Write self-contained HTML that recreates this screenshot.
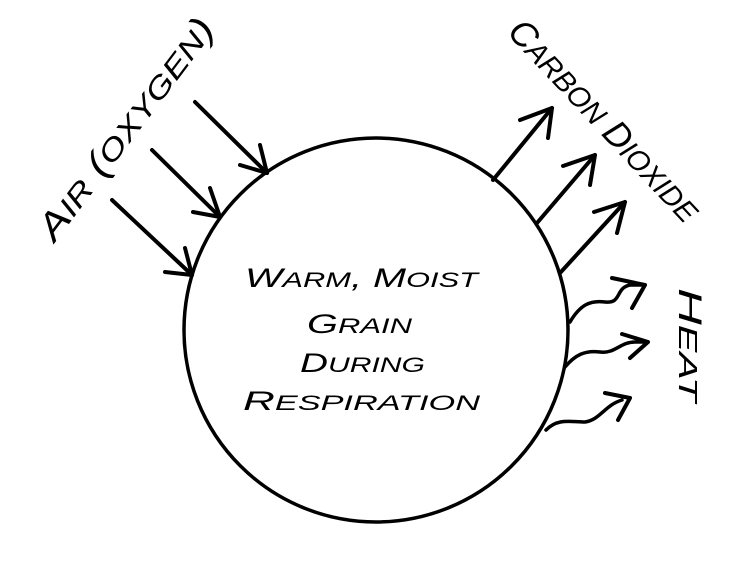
<!DOCTYPE html>
<html><head><meta charset="utf-8"><style>
html,body{margin:0;padding:0;background:#fff;}
svg{display:block;}
text{font-family:"Liberation Sans",sans-serif;font-style:italic;fill:#000;}
</style></head><body>
<svg width="736" height="570" viewBox="0 0 736 570" xmlns="http://www.w3.org/2000/svg">
<g fill="none" stroke="#000" stroke-width="4" stroke-linecap="round" stroke-linejoin="round">
<circle cx="376" cy="330" r="192" stroke-width="3.5"/>
<!-- left arrows -->
<line x1="112" y1="200" x2="192" y2="275"/><path d="M165 272 L192 275 L185 248"/>
<line x1="152" y1="150" x2="220" y2="217"/><path d="M193 212 L220 217 L210 188"/>
<line x1="195" y1="102" x2="267" y2="173"/><path d="M240 165 L267 173 L260 145"/>
<!-- right arrows -->
<line x1="493" y1="180" x2="552" y2="108"/><path d="M520 120 L552 108 L548 138"/>
<line x1="537" y1="223" x2="595" y2="155"/><path d="M563 166 L595 155 L590 185"/>
<line x1="560" y1="273" x2="625" y2="202"/><path d="M594 212 L625 202 L617 233"/>
<!-- heat -->
<path d="M570 322 C580 305,590 300,605 302 C622 304,615 288,630 285 L645 285" stroke-width="3.5"/>
<path d="M612 278 L645 285 L632 308" stroke-width="4"/>
<path d="M565 367 C575 355,585 350,600 352 C615 354,620 342,635 342 L648 342" stroke-width="3.5"/>
<path d="M622 334 L648 342 L630 358" stroke-width="4"/>
<path d="M546 430 C558 418,570 422,585 422 C600 420,605 405,622 400" stroke-width="3.5"/>
<path d="M605 393 L630 398 L618 420" stroke-width="4"/>
</g>
<g font-size="27">
<text x="245" y="287" textLength="233" lengthAdjust="spacingAndGlyphs">W<tspan font-size="21">ARM</tspan>, M<tspan font-size="21">OIST</tspan></text>
<text x="307" y="333" textLength="105" lengthAdjust="spacingAndGlyphs">G<tspan font-size="21">RAIN</tspan></text>
<text x="300" y="372" textLength="125" lengthAdjust="spacingAndGlyphs">D<tspan font-size="21">URING</tspan></text>
<text x="243" y="410" textLength="237" lengthAdjust="spacingAndGlyphs">R<tspan font-size="21">ESPIRATION</tspan></text>
</g>
<g font-size="36">
<text transform="translate(125,128) rotate(-53)" x="-134" y="13" textLength="268" lengthAdjust="spacingAndGlyphs">A<tspan font-size="29">IR</tspan> (<tspan font-size="29">OXYGEN</tspan>)</text>
<text transform="translate(605,120) rotate(47)" x="-131" y="13" textLength="262" lengthAdjust="spacingAndGlyphs">C<tspan font-size="29">ARBON</tspan> D<tspan font-size="29">IOXIDE</tspan></text>
<text transform="translate(690,345) rotate(90)" x="-57" y="11" font-size="32" textLength="114" lengthAdjust="spacingAndGlyphs">H<tspan font-size="26">EAT</tspan></text>
</g>
</svg>
</body></html>
